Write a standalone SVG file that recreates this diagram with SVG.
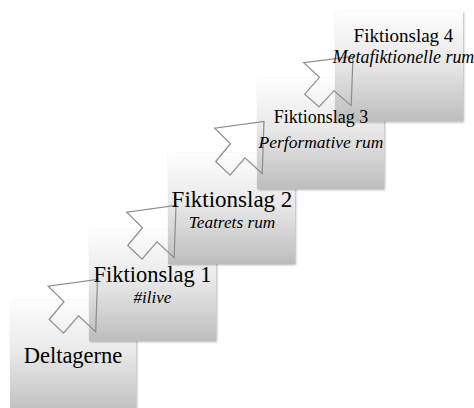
<svg xmlns="http://www.w3.org/2000/svg" width="474" height="408" viewBox="0 0 474 408">
<defs>
<linearGradient id="g" x1="0" y1="0" x2="0" y2="1">
<stop offset="0" stop-color="#fdfdfd"/>
<stop offset="0.45" stop-color="#e9e9e9"/>
<stop offset="1" stop-color="#bdbdbd"/>
</linearGradient>
<filter id="sh" x="-10%" y="-10%" width="120%" height="120%">
<feGaussianBlur in="SourceAlpha" stdDeviation="1"/>
<feOffset dx="1" dy="1" result="b"/>
<feComponentTransfer><feFuncA type="linear" slope="0.3"/></feComponentTransfer>
<feMerge><feMergeNode/><feMergeNode in="SourceGraphic"/></feMerge>
</filter>
<polygon id="arr" points="0,0 -1.8,52.2 -19,36.4 -34,53.6 -48.3,40 -33.5,22.2 -49.3,6.6"/>
</defs>
<style>
.box{fill:url(#g);filter:url(#sh)}
.t{font-family:"Liberation Serif","Times New Roman",serif;fill:#000;text-anchor:middle}
.i{font-style:italic}
.arrow{fill:none;stroke:#8c8c8c;stroke-width:1.2;stroke-linejoin:miter}
</style>
<rect width="474" height="408" fill="#fff"/>
<g id="deltagerne"><rect class="box" x="10" y="300" width="126" height="115"/></g>
<g id="fiktionslag1"><rect class="box" x="89" y="229" width="127" height="112"/></g>
<g id="fiktionslag2"><rect class="box" x="168" y="153" width="127" height="111"/></g>
<g id="fiktionslag3"><rect class="box" x="257" y="78" width="127" height="111"/></g>
<g id="fiktionslag4"><rect class="box" x="335" y="11.5" width="128" height="110"/></g>
<g id="connectors">
<use href="#arr" class="arrow" transform="translate(97.5,279.5)"/>
<use href="#arr" class="arrow" transform="translate(176,205.5)"/>
<use href="#arr" class="arrow" transform="translate(264,121.5)"/>
<use href="#arr" class="arrow" transform="translate(353,56.5) scale(1,0.94)"/>
</g>
<g id="labels">
<g id="deltagerne-label">
<text class="t" x="73" y="363" font-size="22.5">Deltagerne</text>
</g>
<g id="fiktionslag1-label">
<text class="t" x="152.5" y="281.7" font-size="22.5">Fiktionslag 1</text>
<text class="t i" x="152.5" y="303.3" font-size="17">#ilive</text>
</g>
<g id="fiktionslag2-label">
<text class="t" x="232" y="206.7" font-size="23">Fiktionslag 2</text>
<text class="t i" x="232" y="228.3" font-size="17.3">Teatrets rum</text>
</g>
<g id="fiktionslag3-label">
<text class="t" x="321" y="123.3" font-size="18">Fiktionslag 3</text>
<text class="t i" x="321" y="148.3" font-size="17.5">Performative rum</text>
</g>
<g id="fiktionslag4-label">
<text class="t" x="403.5" y="41.7" font-size="19">Fiktionslag 4</text>
<text class="t i" x="403.5" y="63.3" font-size="17.9">Metafiktionelle rum</text>
</g>
</g>
</svg>
